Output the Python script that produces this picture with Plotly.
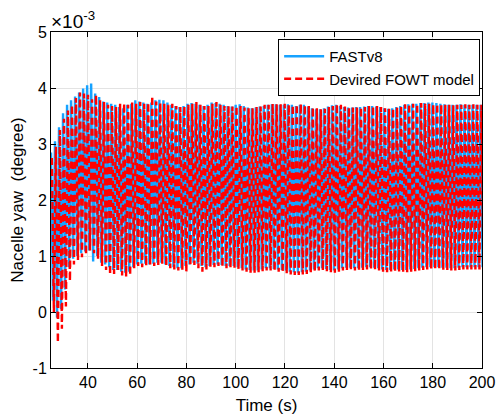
import numpy as np
import plotly.graph_objects as go

# ---- data (x 1e-3 degree), one value per oscillation cycle ----
CYCLE_START = 25.0      # s
CYCLE_PERIOD = 1.63     # s  (3P oscillation)
RED_LAG = 0.35          # s

fast_upper = [2.85, 3.05, 3.30, 3.55, 3.70, 3.78, 3.85, 3.92, 3.99, 4.05,
              4.08, 3.90, 3.84, 3.76, 3.74, 3.72, 3.70, 3.66, 3.64, 3.70,
              3.72, 3.78, 3.76, 3.74, 3.72, 3.74, 3.78, 3.79, 3.78, 3.74,
              3.70, 3.68, 3.66, 3.68, 3.72, 3.73, 3.72, 3.70, 3.68, 3.70,
              3.74, 3.73, 3.72, 3.70, 3.68, 3.67, 3.70, 3.71, 3.68, 3.65,
              3.64, 3.65, 3.67, 3.68, 3.70, 3.71, 3.71, 3.70, 3.70, 3.71,
              3.70, 3.68, 3.70, 3.70, 3.67, 3.64, 3.62, 3.62, 3.64, 3.67,
              3.69, 3.70, 3.68, 3.66, 3.65, 3.65, 3.66, 3.66, 3.67, 3.68,
              3.68, 3.67, 3.66, 3.64, 3.63, 3.64, 3.66, 3.68, 3.70, 3.71,
              3.72, 3.72, 3.73, 3.73, 3.74, 3.74, 3.73, 3.72, 3.71, 3.70,
              3.70, 3.70, 3.71, 3.70, 3.70, 3.70, 3.70, 3.70]
fast_lower = [0.20, -0.10, 0.05, 0.40, 0.80, 0.95, 1.00, 1.05, 1.08, 1.10,
              0.90, 1.00, 0.88, 0.85, 0.80, 0.75, 0.75, 0.72, 0.70, 0.72,
              0.80, 0.85, 0.86, 0.86, 0.85, 0.86, 0.88, 0.88, 0.85, 0.82,
              0.80, 0.78, 0.78, 0.82, 0.85, 0.88, 0.86, 0.82, 0.80, 0.82,
              0.84, 0.85, 0.84, 0.82, 0.82, 0.82, 0.80, 0.78, 0.76, 0.75,
              0.74, 0.74, 0.76, 0.78, 0.78, 0.77, 0.76, 0.75, 0.74, 0.72,
              0.71, 0.70, 0.71, 0.72, 0.74, 0.76, 0.78, 0.78, 0.77, 0.75,
              0.74, 0.76, 0.78, 0.79, 0.79, 0.78, 0.78, 0.79, 0.80, 0.80,
              0.79, 0.78, 0.76, 0.75, 0.75, 0.76, 0.76, 0.75, 0.75, 0.76,
              0.77, 0.78, 0.79, 0.80, 0.80, 0.80, 0.80, 0.79, 0.79, 0.78,
              0.78, 0.79, 0.80, 0.80, 0.80, 0.80, 0.80, 0.80]
fowt_upper = [2.75, 2.95, 3.25, 3.45, 3.60, 3.70, 3.82, 3.92, 3.90, 3.88,
              3.80, 3.88, 3.78, 3.75, 3.70, 3.68, 3.66, 3.72, 3.73, 3.70,
              3.74, 3.72, 3.75, 3.72, 3.74, 3.86, 3.76, 3.74, 3.72, 3.70,
              3.72, 3.68, 3.66, 3.68, 3.70, 3.72, 3.75, 3.70, 3.68, 3.68,
              3.72, 3.75, 3.70, 3.68, 3.68, 3.67, 3.68, 3.68, 3.65, 3.64,
              3.64, 3.66, 3.67, 3.70, 3.70, 3.72, 3.71, 3.71, 3.72, 3.70,
              3.70, 3.71, 3.72, 3.70, 3.68, 3.66, 3.64, 3.62, 3.63, 3.66,
              3.68, 3.72, 3.70, 3.67, 3.66, 3.65, 3.65, 3.66, 3.66, 3.68,
              3.68, 3.68, 3.66, 3.64, 3.63, 3.64, 3.66, 3.69, 3.71, 3.72,
              3.72, 3.72, 3.73, 3.72, 3.72, 3.71, 3.72, 3.71, 3.70, 3.70,
              3.69, 3.70, 3.70, 3.71, 3.70, 3.71, 3.70, 3.70]
fowt_lower = [0.00, -0.55, -0.30, 0.10, 0.55, 0.85, 0.93, 0.98, 1.02, 1.10,
              1.05, 0.95, 0.82, 0.75, 0.66, 0.68, 0.75, 0.65, 0.63, 0.65,
              0.78, 0.82, 0.80, 0.82, 0.85, 0.82, 0.84, 0.86, 0.82, 0.78,
              0.76, 0.74, 0.75, 0.72, 0.82, 0.84, 0.78, 0.72, 0.76, 0.80,
              0.80, 0.82, 0.80, 0.78, 0.78, 0.79, 0.76, 0.74, 0.72, 0.70,
              0.70, 0.71, 0.73, 0.74, 0.74, 0.73, 0.72, 0.70, 0.69, 0.67,
              0.66, 0.66, 0.67, 0.68, 0.70, 0.72, 0.74, 0.74, 0.73, 0.71,
              0.70, 0.72, 0.74, 0.75, 0.75, 0.74, 0.74, 0.75, 0.76, 0.76,
              0.75, 0.74, 0.72, 0.71, 0.71, 0.72, 0.72, 0.71, 0.71, 0.72,
              0.73, 0.74, 0.75, 0.76, 0.76, 0.76, 0.76, 0.75, 0.75, 0.74,
              0.74, 0.75, 0.76, 0.76, 0.76, 0.76, 0.76, 0.76]

x_ticks = [40, 60, 80, 100, 120, 140, 160, 180, 200]
y_ticks = [-1, 0, 1, 2, 3, 4, 5]
SCALE = 1e-3


def zigzag(upper, lower, lag):
    n = len(upper)
    t_peak = CYCLE_START + lag + CYCLE_PERIOD * np.arange(n)
    t_trough = t_peak + CYCLE_PERIOD / 2
    x = np.empty(2 * n)
    y = np.empty(2 * n)
    x[0::2], x[1::2] = t_peak, t_trough
    y[0::2], y[1::2] = np.array(upper) * SCALE, np.array(lower) * SCALE
    return x, y


xb, yb = zigzag(fast_upper, fast_lower, 0.0)
xr, yr = zigzag(fowt_upper, fowt_lower, RED_LAG)

FONT = "Liberation Sans, Arial, Helvetica, sans-serif"

fig = go.Figure()
fig.add_trace(go.Scatter(x=xb, y=yb, mode="lines", name="FASTv8",
                         line=dict(color="#16a2ff", width=2.4, simplify=False)))
fig.add_trace(go.Scatter(x=xr, y=yr, mode="lines", name="Devired FOWT model",
                         line=dict(color="#ff0000", width=2.4, dash="7px,4px",
                                   simplify=False)))

axis_common = dict(showline=True, linecolor="black", linewidth=1, mirror="ticks",
                   ticks="inside", ticklen=5, tickcolor="black",
                   showgrid=True, gridcolor="#e3e3e3", gridwidth=1,
                   zeroline=False, automargin=False,
                   tickfont=dict(family=FONT, size=16, color="black"))

fig.update_xaxes(range=[25, 200], tickvals=x_ticks,
                 ticktext=[str(v) for v in x_ticks],
                 title=dict(text="Time (s)", font=dict(family=FONT, size=17, color="black"),
                            standoff=8),
                 **axis_common)
fig.update_yaxes(range=[-1 * SCALE, 5 * SCALE], tickvals=[v * SCALE for v in y_ticks],
                 ticktext=[str(v) for v in y_ticks],
                 title=dict(text="Nacelle yaw \u00a0(degree)",
                            font=dict(family=FONT, size=17, color="black"), standoff=4),
                 **axis_common)

fig.add_annotation(text="\u00d710<sup>-3</sup>", xref="paper", yref="paper",
                   x=0.0, y=1.0, xanchor="left", yanchor="bottom", showarrow=False,
                   font=dict(family=FONT, size=19, color="black"), xshift=-2, yshift=-2)

fig.update_layout(
    width=497, height=419,
    margin=dict(l=51, r=15, t=32, b=51, autoexpand=False),
    paper_bgcolor="white", plot_bgcolor="white",
    showlegend=True,
    legend=dict(x=0.527, y=0.979, xanchor="left", yanchor="top",
                bgcolor="white", bordercolor="black", borderwidth=1,
                font=dict(family=FONT, size=15, color="black"),
                itemwidth=40, tracegroupgap=0),
)

fig.write_html("out.html")
